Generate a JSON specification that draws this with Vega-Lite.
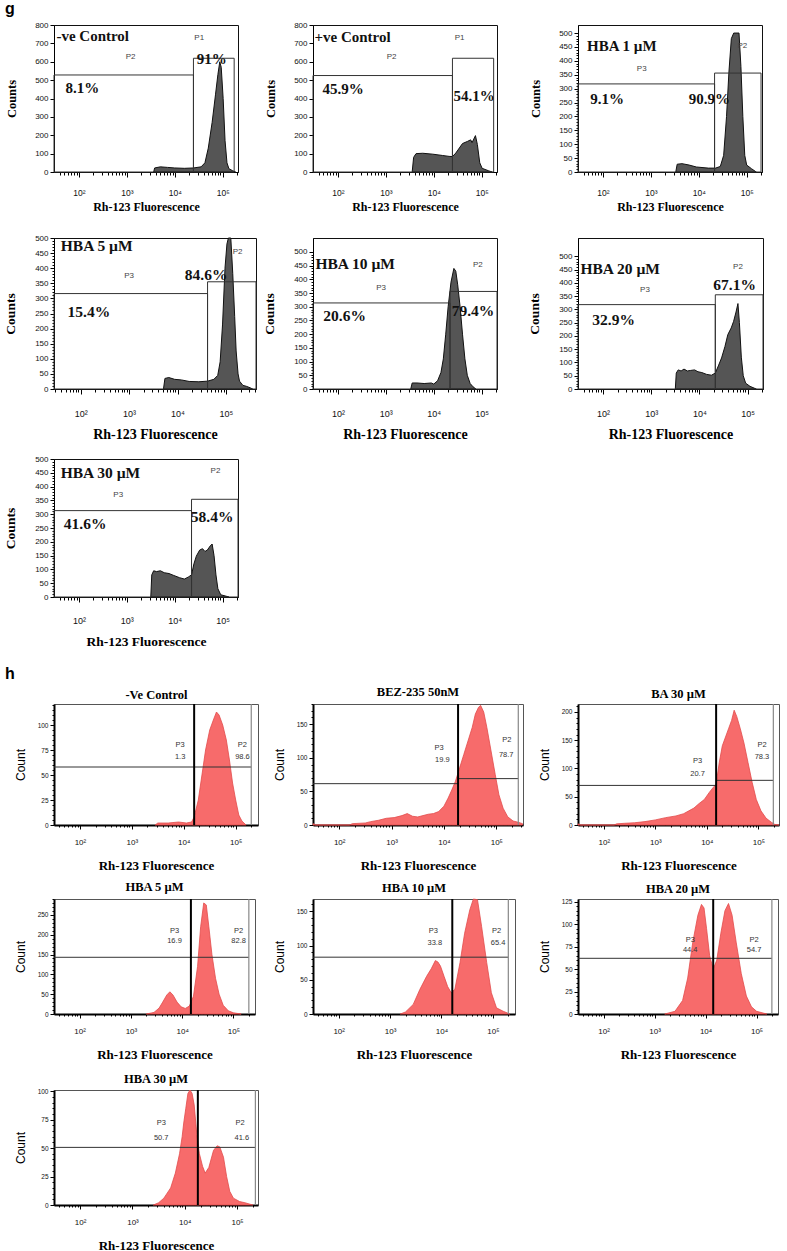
{
"$schema":"https://vega.github.io/schema/vega-lite/v6.json",
"background":"white",
"padding":{"left":3,"top":0,"right":0,"bottom":0},
"columns":4,
"spacing":{"row":66,"column":55},
"bounds":"flush",
"align":"each",
"config":{
 "view":{"stroke":"#111","strokeWidth":1},
 "axis":{"grid":false,"domainColor":"#000","tickColor":"#000","labelColor":"#111","labelFont":"Liberation Sans","titleColor":"#000","labelFlush":false,"labelOverlap":false,"labelBound":false},
 "title":{"color":"#000"}
},
"concat":[
{
 "width":184,"height":147,
 "title":{"text":"g","anchor":"start","frame":"group","dx":-49,"offset":4,"fontSize":16,"font":"Liberation Sans","fontWeight":"bold"},
 "encoding":{
  "x":{"field":"l","type":"quantitative","scale":{"domain":[1.48,5.32],"nice":false,"zero":false},"axis":{"title":"Rh-123 Fluorescence","titleFont":"Liberation Serif","titleFontWeight":"bold","titleFontSize":12,"titlePadding":5,"labelFontSize":8.5,"labelPadding":11,"values":[1.602,1.699,1.778,1.845,1.903,1.954,2,2.301,2.477,2.602,2.699,2.778,2.845,2.903,2.954,3,3.301,3.477,3.602,3.699,3.778,3.845,3.903,3.954,4,4.301,4.477,4.602,4.699,4.778,4.845,4.903,4.954,5,5.301],"labelExpr":"datum.value == 2 ? '10²' : datum.value == 3 ? '10³' : datum.value == 4 ? '10⁴' : datum.value == 5 ? '10⁵' : ''","tickSize":{"condition":{"test":"datum.value % 1 == 0","value":5},"value":3}}},
  "y":{"field":"c","type":"quantitative","scale":{"domain":[0,800],"nice":false},"axis":{"title":"Counts","titleFont":"Liberation Serif","titleFontWeight":"bold","titleFontSize":12.5,"titlePadding":16,"labelFontSize":8,"labelPadding":2,"tickSize":4,"values":[0,100,200,300,400,500,600,700,800]}}
 },
 "layer":[
  {"data":{"values":[{"l":3.56,"c":0},{"l":3.58,"c":22},{"l":3.7,"c":28},{"l":3.85,"c":25},{"l":4.0,"c":22},{"l":4.2,"c":20},{"l":4.39,"c":22},{"l":4.55,"c":28},{"l":4.63,"c":50},{"l":4.7,"c":130},{"l":4.78,"c":270},{"l":4.85,"c":420},{"l":4.9,"c":530},{"l":4.94,"c":600},{"l":4.97,"c":570},{"l":5.01,"c":400},{"l":5.05,"c":170},{"l":5.09,"c":50},{"l":5.13,"c":18},{"l":5.2,"c":8},{"l":5.27,"c":0}]},"mark":{"type":"area","color":"#555","stroke":"#111","strokeWidth":1}},
  {"data":{"values":[{"l":1.48,"l2":4.39,"c":0,"c2":528},{"l":4.39,"l2":5.24,"c":0,"c2":619}]},"mark":{"type":"rect","fillOpacity":0,"stroke":"#333","strokeWidth":1},"encoding":{"x2":{"field":"l2"},"y2":{"field":"c2"}}},
  {"data":{"values":[{"l":1.53,"c":740,"t":"-ve Control"}]},"mark":{"type":"text","align":"left","baseline":"middle","font":"Liberation Serif","fontWeight":"bold","fontSize":15,"color":"#111"},"encoding":{"text":{"field":"t"}}},
  {"data":{"values":[{"l":4.77,"c":614,"t":"91%"},{"l":2.07,"c":456,"t":"8.1%"}]},"mark":{"type":"text","align":"center","baseline":"middle","font":"Liberation Serif","fontWeight":"bold","fontSize":15,"color":"#111"},"encoding":{"text":{"field":"t"}}},
  {"data":{"values":[{"l":3.08,"c":628,"t":"P2"},{"l":4.51,"c":728,"t":"P1"}]},"mark":{"type":"text","align":"center","baseline":"middle","font":"Liberation Sans","fontSize":8,"color":"#444"},"encoding":{"text":{"field":"t"}}}
 ]
},
{
 "width":184,"height":147,
 "encoding":{
  "x":{"field":"l","type":"quantitative","scale":{"domain":[1.48,5.32],"nice":false,"zero":false},"axis":{"title":"Rh-123 Fluorescence","titleFont":"Liberation Serif","titleFontWeight":"bold","titleFontSize":12,"titlePadding":5,"labelFontSize":8.5,"labelPadding":11,"values":[1.602,1.699,1.778,1.845,1.903,1.954,2,2.301,2.477,2.602,2.699,2.778,2.845,2.903,2.954,3,3.301,3.477,3.602,3.699,3.778,3.845,3.903,3.954,4,4.301,4.477,4.602,4.699,4.778,4.845,4.903,4.954,5,5.301],"labelExpr":"datum.value == 2 ? '10²' : datum.value == 3 ? '10³' : datum.value == 4 ? '10⁴' : datum.value == 5 ? '10⁵' : ''","tickSize":{"condition":{"test":"datum.value % 1 == 0","value":5},"value":3}}},
  "y":{"field":"c","type":"quantitative","scale":{"domain":[0,800],"nice":false},"axis":{"title":"Counts","titleFont":"Liberation Serif","titleFontWeight":"bold","titleFontSize":12.5,"titlePadding":16,"labelFontSize":8,"labelPadding":2,"tickSize":4,"values":[0,100,200,300,400,500,600,700,800]}}
 },
 "layer":[
  {"data":{"values":[{"l":3.55,"c":0},{"l":3.58,"c":80},{"l":3.63,"c":100},{"l":3.77,"c":102},{"l":3.98,"c":97},{"l":4.18,"c":90},{"l":4.32,"c":85},{"l":4.39,"c":84},{"l":4.46,"c":103},{"l":4.6,"c":155},{"l":4.7,"c":166},{"l":4.77,"c":175},{"l":4.8,"c":160},{"l":4.87,"c":198},{"l":4.91,"c":150},{"l":4.96,"c":50},{"l":5.01,"c":20},{"l":5.15,"c":6},{"l":5.22,"c":0}]},"mark":{"type":"area","color":"#555","stroke":"#111","strokeWidth":1}},
  {"data":{"values":[{"l":1.48,"l2":4.39,"c":0,"c2":525},{"l":4.39,"l2":5.25,"c":0,"c2":619}]},"mark":{"type":"rect","fillOpacity":0,"stroke":"#333","strokeWidth":1},"encoding":{"x2":{"field":"l2"},"y2":{"field":"c2"}}},
  {"data":{"values":[{"l":1.51,"c":737,"t":"+ve Control"}]},"mark":{"type":"text","align":"left","baseline":"middle","font":"Liberation Serif","fontWeight":"bold","fontSize":15,"color":"#111"},"encoding":{"text":{"field":"t"}}},
  {"data":{"values":[{"l":2.11,"c":451,"t":"45.9%"},{"l":4.84,"c":411,"t":"54.1%"}]},"mark":{"type":"text","align":"center","baseline":"middle","font":"Liberation Serif","fontWeight":"bold","fontSize":15,"color":"#111"},"encoding":{"text":{"field":"t"}}},
  {"data":{"values":[{"l":3.12,"c":624,"t":"P2"},{"l":4.54,"c":728,"t":"P1"}]},"mark":{"type":"text","align":"center","baseline":"middle","font":"Liberation Sans","fontSize":8,"color":"#444"},"encoding":{"text":{"field":"t"}}}
 ]
},
{
 "width":184,"height":147,
 "encoding":{
  "x":{"field":"l","type":"quantitative","scale":{"domain":[1.48,5.32],"nice":false,"zero":false},"axis":{"title":"Rh-123 Fluorescence","titleFont":"Liberation Serif","titleFontWeight":"bold","titleFontSize":12,"titlePadding":5,"labelFontSize":8.5,"labelPadding":11,"values":[1.602,1.699,1.778,1.845,1.903,1.954,2,2.301,2.477,2.602,2.699,2.778,2.845,2.903,2.954,3,3.301,3.477,3.602,3.699,3.778,3.845,3.903,3.954,4,4.301,4.477,4.602,4.699,4.778,4.845,4.903,4.954,5,5.301],"labelExpr":"datum.value == 2 ? '10²' : datum.value == 3 ? '10³' : datum.value == 4 ? '10⁴' : datum.value == 5 ? '10⁵' : ''","tickSize":{"condition":{"test":"datum.value % 1 == 0","value":5},"value":3}}},
  "y":{"field":"c","type":"quantitative","scale":{"domain":[0,529],"nice":false},"axis":{"title":"Counts","titleFont":"Liberation Serif","titleFontWeight":"bold","titleFontSize":12.5,"titlePadding":16,"labelFontSize":8,"labelPadding":2,"values":[0,10,20,30,40,50,60,70,80,90,100,110,120,130,140,150,160,170,180,190,200,210,220,230,240,250,260,270,280,290,300,310,320,330,340,350,360,370,380,390,400,410,420,430,440,450,460,470,480,490,500],"labelExpr":"datum.value % 50 == 0 ? datum.label : ''","tickSize":{"condition":{"test":"datum.value % 50 == 0","value":4},"value":2}}}
 },
 "layer":[
  {"data":{"values":[{"l":3.52,"c":0},{"l":3.55,"c":28},{"l":3.65,"c":30},{"l":3.8,"c":25},{"l":3.95,"c":18},{"l":4.2,"c":14},{"l":4.35,"c":14},{"l":4.45,"c":20},{"l":4.52,"c":60},{"l":4.58,"c":200},{"l":4.63,"c":360},{"l":4.68,"c":480},{"l":4.73,"c":500},{"l":4.84,"c":500},{"l":4.88,"c":380},{"l":4.92,"c":200},{"l":4.96,"c":60},{"l":5.0,"c":25},{"l":5.1,"c":12},{"l":5.2,"c":0}]},"mark":{"type":"area","color":"#555","stroke":"#111","strokeWidth":1}},
  {"data":{"values":[{"l":1.48,"l2":4.33,"c":0,"c2":317},{"l":4.33,"l2":5.3,"c":0,"c2":356}]},"mark":{"type":"rect","fillOpacity":0,"stroke":"#333","strokeWidth":1},"encoding":{"x2":{"field":"l2"},"y2":{"field":"c2"}}},
  {"data":{"values":[{"l":1.67,"c":452,"t":"HBA 1 µM"}]},"mark":{"type":"text","align":"left","baseline":"middle","font":"Liberation Serif","fontWeight":"bold","fontSize":15,"color":"#111"},"encoding":{"text":{"field":"t"}}},
  {"data":{"values":[{"l":2.09,"c":264,"t":"9.1%"},{"l":4.22,"c":264,"t":"90.9%"}]},"mark":{"type":"text","align":"center","baseline":"middle","font":"Liberation Serif","fontWeight":"bold","fontSize":15,"color":"#111"},"encoding":{"text":{"field":"t"}}},
  {"data":{"values":[{"l":2.81,"c":370,"t":"P3"},{"l":4.91,"c":452,"t":"P2"}]},"mark":{"type":"text","align":"center","baseline":"middle","font":"Liberation Sans","fontSize":8,"color":"#444"},"encoding":{"text":{"field":"t"}}}
 ]
},
{"width":1,"height":147,"view":{"stroke":null},"data":{"values":[]},"mark":"point"},
{
 "width":202,"height":151,
 "encoding":{
  "x":{"field":"l","type":"quantitative","scale":{"domain":[1.45,5.62],"nice":false,"zero":false},"axis":{"title":"Rh-123 Fluorescence","titleFont":"Liberation Serif","titleFontWeight":"bold","titleFontSize":14,"titlePadding":9,"labelFontSize":9,"labelPadding":15,"values":[1.477,1.602,1.699,1.778,1.845,1.903,1.954,2,2.301,2.477,2.602,2.699,2.778,2.845,2.903,2.954,3,3.301,3.477,3.602,3.699,3.778,3.845,3.903,3.954,4,4.301,4.477,4.602,4.699,4.778,4.845,4.903,4.954,5,5.301,5.477,5.602],"labelExpr":"datum.value == 2 ? '10²' : datum.value == 3 ? '10³' : datum.value == 4 ? '10⁴' : datum.value == 5 ? '10⁵' : ''","tickSize":{"condition":{"test":"datum.value % 1 == 0","value":5},"value":3}}},
  "y":{"field":"c","type":"quantitative","scale":{"domain":[0,500],"nice":false},"axis":{"title":"Counts","titleFont":"Liberation Serif","titleFontWeight":"bold","titleFontSize":13.5,"titlePadding":17,"labelFontSize":8,"labelPadding":2,"values":[0,10,20,30,40,50,60,70,80,90,100,110,120,130,140,150,160,170,180,190,200,210,220,230,240,250,260,270,280,290,300,310,320,330,340,350,360,370,380,390,400,410,420,430,440,450,460,470,480,490,500],"labelExpr":"datum.value % 50 == 0 ? datum.label : ''","tickSize":{"condition":{"test":"datum.value % 50 == 0","value":4},"value":2}}}
 },
 "layer":[
  {"data":{"values":[{"l":3.71,"c":0},{"l":3.74,"c":35},{"l":3.82,"c":38},{"l":3.94,"c":32},{"l":4.08,"c":30},{"l":4.24,"c":25},{"l":4.44,"c":24},{"l":4.62,"c":26},{"l":4.75,"c":32},{"l":4.83,"c":45},{"l":4.88,"c":90},{"l":4.93,"c":215},{"l":4.98,"c":400},{"l":5.02,"c":480},{"l":5.05,"c":500},{"l":5.1,"c":500},{"l":5.14,"c":383},{"l":5.18,"c":240},{"l":5.21,"c":126},{"l":5.25,"c":50},{"l":5.28,"c":26},{"l":5.35,"c":12},{"l":5.42,"c":9},{"l":5.5,"c":4},{"l":5.55,"c":0}]},"mark":{"type":"area","color":"#555","stroke":"#111","strokeWidth":1}},
  {"data":{"values":[{"l":1.45,"l2":4.62,"c":0,"c2":316},{"l":4.62,"l2":5.62,"c":0,"c2":355}]},"mark":{"type":"rect","fillOpacity":0,"stroke":"#333","strokeWidth":1},"encoding":{"x2":{"field":"l2"},"y2":{"field":"c2"}}},
  {"data":{"values":[{"l":1.59,"c":472,"t":"HBA  5 µM"}]},"mark":{"type":"text","align":"left","baseline":"middle","font":"Liberation Serif","fontWeight":"bold","fontSize":15.5,"color":"#111"},"encoding":{"text":{"field":"t"}}},
  {"data":{"values":[{"l":2.17,"c":254,"t":"15.4%"},{"l":4.59,"c":377,"t":"84.6%"}]},"mark":{"type":"text","align":"center","baseline":"middle","font":"Liberation Serif","fontWeight":"bold","fontSize":15.5,"color":"#111"},"encoding":{"text":{"field":"t"}}},
  {"data":{"values":[{"l":3.0,"c":374,"t":"P3"},{"l":5.24,"c":455,"t":"P2"}]},"mark":{"type":"text","align":"center","baseline":"middle","font":"Liberation Sans","fontSize":8,"color":"#444"},"encoding":{"text":{"field":"t"}}}
 ]
},
{
 "width":184,"height":151,
 "encoding":{
  "x":{"field":"l","type":"quantitative","scale":{"domain":[1.48,5.32],"nice":false,"zero":false},"axis":{"title":"Rh-123 Fluorescence","titleFont":"Liberation Serif","titleFontWeight":"bold","titleFontSize":14,"titlePadding":9,"labelFontSize":9,"labelPadding":15,"values":[1.602,1.699,1.778,1.845,1.903,1.954,2,2.301,2.477,2.602,2.699,2.778,2.845,2.903,2.954,3,3.301,3.477,3.602,3.699,3.778,3.845,3.903,3.954,4,4.301,4.477,4.602,4.699,4.778,4.845,4.903,4.954,5,5.301],"labelExpr":"datum.value == 2 ? '10²' : datum.value == 3 ? '10³' : datum.value == 4 ? '10⁴' : datum.value == 5 ? '10⁵' : ''","tickSize":{"condition":{"test":"datum.value % 1 == 0","value":5},"value":3}}},
  "y":{"field":"c","type":"quantitative","scale":{"domain":[0,551],"nice":false},"axis":{"title":"Counts","titleFont":"Liberation Serif","titleFontWeight":"bold","titleFontSize":13.5,"titlePadding":17,"labelFontSize":8,"labelPadding":2,"values":[0,10,20,30,40,50,60,70,80,90,100,110,120,130,140,150,160,170,180,190,200,210,220,230,240,250,260,270,280,290,300,310,320,330,340,350,360,370,380,390,400,410,420,430,440,450,460,470,480,490,500],"labelExpr":"datum.value % 50 == 0 ? datum.label : ''","tickSize":{"condition":{"test":"datum.value % 50 == 0","value":4},"value":2}}}
 },
 "layer":[
  {"data":{"values":[{"l":3.52,"c":0},{"l":3.55,"c":22},{"l":3.65,"c":22},{"l":3.8,"c":20},{"l":3.95,"c":22},{"l":4.0,"c":18},{"l":4.08,"c":30},{"l":4.15,"c":60},{"l":4.2,"c":110},{"l":4.25,"c":200},{"l":4.3,"c":300},{"l":4.36,"c":390},{"l":4.42,"c":440},{"l":4.46,"c":430},{"l":4.5,"c":380},{"l":4.55,"c":300},{"l":4.6,"c":200},{"l":4.65,"c":110},{"l":4.7,"c":50},{"l":4.76,"c":20},{"l":4.82,"c":8},{"l":4.88,"c":0}]},"mark":{"type":"area","color":"#555","stroke":"#111","strokeWidth":1}},
  {"data":{"values":[{"l":1.48,"l2":4.34,"c":0,"c2":314},{"l":4.34,"l2":5.32,"c":0,"c2":356}]},"mark":{"type":"rect","fillOpacity":0,"stroke":"#333","strokeWidth":1},"encoding":{"x2":{"field":"l2"},"y2":{"field":"c2"}}},
  {"data":{"values":[{"l":1.53,"c":456,"t":"HBA 10 µM"}]},"mark":{"type":"text","align":"left","baseline":"middle","font":"Liberation Serif","fontWeight":"bold","fontSize":15.5,"color":"#111"},"encoding":{"text":{"field":"t"}}},
  {"data":{"values":[{"l":2.14,"c":265,"t":"20.6%"},{"l":4.82,"c":283,"t":"79.4%"}]},"mark":{"type":"text","align":"center","baseline":"middle","font":"Liberation Serif","fontWeight":"bold","fontSize":15.5,"color":"#111"},"encoding":{"text":{"field":"t"}}},
  {"data":{"values":[{"l":2.9,"c":369,"t":"P3"},{"l":4.92,"c":454,"t":"P2"}]},"mark":{"type":"text","align":"center","baseline":"middle","font":"Liberation Sans","fontSize":8,"color":"#444"},"encoding":{"text":{"field":"t"}}}
 ]
},
{
 "width":185,"height":151,
 "encoding":{
  "x":{"field":"l","type":"quantitative","scale":{"domain":[1.48,5.32],"nice":false,"zero":false},"axis":{"title":"Rh-123 Fluorescence","titleFont":"Liberation Serif","titleFontWeight":"bold","titleFontSize":14,"titlePadding":9,"labelFontSize":9,"labelPadding":15,"values":[1.602,1.699,1.778,1.845,1.903,1.954,2,2.301,2.477,2.602,2.699,2.778,2.845,2.903,2.954,3,3.301,3.477,3.602,3.699,3.778,3.845,3.903,3.954,4,4.301,4.477,4.602,4.699,4.778,4.845,4.903,4.954,5,5.301],"labelExpr":"datum.value == 2 ? '10²' : datum.value == 3 ? '10³' : datum.value == 4 ? '10⁴' : datum.value == 5 ? '10⁵' : ''","tickSize":{"condition":{"test":"datum.value % 1 == 0","value":5},"value":3}}},
  "y":{"field":"c","type":"quantitative","scale":{"domain":[0,569],"nice":false},"axis":{"title":"Counts","titleFont":"Liberation Serif","titleFontWeight":"bold","titleFontSize":13.5,"titlePadding":17,"labelFontSize":8,"labelPadding":2,"values":[0,10,20,30,40,50,60,70,80,90,100,110,120,130,140,150,160,170,180,190,200,210,220,230,240,250,260,270,280,290,300,310,320,330,340,350,360,370,380,390,400,410,420,430,440,450,460,470,480,490,500],"labelExpr":"datum.value % 50 == 0 ? datum.label : ''","tickSize":{"condition":{"test":"datum.value % 50 == 0","value":4},"value":2}}}
 },
 "layer":[
  {"data":{"values":[{"l":3.5,"c":0},{"l":3.52,"c":60},{"l":3.56,"c":72},{"l":3.62,"c":68},{"l":3.68,"c":75},{"l":3.75,"c":68},{"l":3.82,"c":70},{"l":3.9,"c":72},{"l":3.97,"c":65},{"l":4.05,"c":62},{"l":4.15,"c":55},{"l":4.25,"c":52},{"l":4.33,"c":60},{"l":4.4,"c":90},{"l":4.46,"c":117},{"l":4.53,"c":160},{"l":4.59,"c":205},{"l":4.66,"c":230},{"l":4.71,"c":255},{"l":4.76,"c":290},{"l":4.8,"c":322},{"l":4.83,"c":250},{"l":4.87,"c":120},{"l":4.91,"c":50},{"l":4.96,"c":22},{"l":5.05,"c":10},{"l":5.18,"c":0}]},"mark":{"type":"area","color":"#555","stroke":"#111","strokeWidth":1}},
  {"data":{"values":[{"l":1.48,"l2":4.33,"c":0,"c2":318},{"l":4.33,"l2":5.32,"c":0,"c2":355}]},"mark":{"type":"rect","fillOpacity":0,"stroke":"#333","strokeWidth":1},"encoding":{"x2":{"field":"l2"},"y2":{"field":"c2"}}},
  {"data":{"values":[{"l":1.53,"c":452,"t":"HBA 20 µM"}]},"mark":{"type":"text","align":"left","baseline":"middle","font":"Liberation Serif","fontWeight":"bold","fontSize":15.5,"color":"#111"},"encoding":{"text":{"field":"t"}}},
  {"data":{"values":[{"l":2.22,"c":261,"t":"32.9%"},{"l":4.73,"c":393,"t":"67.1%"}]},"mark":{"type":"text","align":"center","baseline":"middle","font":"Liberation Serif","fontWeight":"bold","fontSize":15.5,"color":"#111"},"encoding":{"text":{"field":"t"}}},
  {"data":{"values":[{"l":2.87,"c":374,"t":"P3"},{"l":4.8,"c":458,"t":"P2"}]},"mark":{"type":"text","align":"center","baseline":"middle","font":"Liberation Sans","fontSize":8,"color":"#444"},"encoding":{"text":{"field":"t"}}}
 ]
},
{"width":1,"height":155,"view":{"stroke":null},"data":{"values":[]},"mark":"point"},
{
 "width":184,"height":138,
 "encoding":{
  "x":{"field":"l","type":"quantitative","scale":{"domain":[1.48,5.32],"nice":false,"zero":false},"axis":{"title":"Rh-123 Fluorescence","titleFont":"Liberation Serif","titleFontWeight":"bold","titleFontSize":13.5,"titlePadding":9,"labelFontSize":9,"labelPadding":14,"values":[1.602,1.699,1.778,1.845,1.903,1.954,2,2.301,2.477,2.602,2.699,2.778,2.845,2.903,2.954,3,3.301,3.477,3.602,3.699,3.778,3.845,3.903,3.954,4,4.301,4.477,4.602,4.699,4.778,4.845,4.903,4.954,5,5.301],"labelExpr":"datum.value == 2 ? '10²' : datum.value == 3 ? '10³' : datum.value == 4 ? '10⁴' : datum.value == 5 ? '10⁵' : ''","tickSize":{"condition":{"test":"datum.value % 1 == 0","value":5},"value":3}}},
  "y":{"field":"c","type":"quantitative","scale":{"domain":[0,500],"nice":false},"axis":{"title":"Counts","titleFont":"Liberation Serif","titleFontWeight":"bold","titleFontSize":13.5,"titlePadding":17,"labelFontSize":8,"labelPadding":2,"values":[0,10,20,30,40,50,60,70,80,90,100,110,120,130,140,150,160,170,180,190,200,210,220,230,240,250,260,270,280,290,300,310,320,330,340,350,360,370,380,390,400,410,420,430,440,450,460,470,480,490,500],"labelExpr":"datum.value % 50 == 0 ? datum.label : ''","tickSize":{"condition":{"test":"datum.value % 50 == 0","value":4},"value":2}}}
 },
 "layer":[
  {"data":{"values":[{"l":3.5,"c":0},{"l":3.52,"c":80},{"l":3.56,"c":95},{"l":3.62,"c":92},{"l":3.7,"c":95},{"l":3.78,"c":88},{"l":3.88,"c":85},{"l":3.98,"c":78},{"l":4.1,"c":70},{"l":4.2,"c":65},{"l":4.28,"c":72},{"l":4.35,"c":80},{"l":4.4,"c":120},{"l":4.45,"c":148},{"l":4.52,"c":170},{"l":4.58,"c":175},{"l":4.63,"c":165},{"l":4.68,"c":170},{"l":4.74,"c":185},{"l":4.78,"c":192},{"l":4.82,"c":150},{"l":4.86,"c":80},{"l":4.9,"c":30},{"l":4.96,"c":8},{"l":5.05,"c":4},{"l":5.13,"c":0}]},"mark":{"type":"area","color":"#555","stroke":"#111","strokeWidth":1}},
  {"data":{"values":[{"l":1.48,"l2":4.35,"c":0,"c2":313},{"l":4.35,"l2":5.32,"c":0,"c2":354}]},"mark":{"type":"rect","fillOpacity":0,"stroke":"#333","strokeWidth":1},"encoding":{"x2":{"field":"l2"},"y2":{"field":"c2"}}},
  {"data":{"values":[{"l":1.62,"c":449,"t":"HBA 30 µM"}]},"mark":{"type":"text","align":"left","baseline":"middle","font":"Liberation Serif","fontWeight":"bold","fontSize":15.5,"color":"#111"},"encoding":{"text":{"field":"t"}}},
  {"data":{"values":[{"l":2.13,"c":265,"t":"41.6%"},{"l":4.78,"c":291,"t":"58.4%"}]},"mark":{"type":"text","align":"center","baseline":"middle","font":"Liberation Serif","fontWeight":"bold","fontSize":15.5,"color":"#111"},"encoding":{"text":{"field":"t"}}},
  {"data":{"values":[{"l":2.82,"c":370,"t":"P3"},{"l":4.85,"c":455,"t":"P2"}]},"mark":{"type":"text","align":"center","baseline":"middle","font":"Liberation Sans","fontSize":8,"color":"#444"},"encoding":{"text":{"field":"t"}}}
 ]
},
{"width":1,"height":179,"view":{"stroke":null},"data":{"values":[]},"mark":"point"},
{"width":1,"height":1,"view":{"stroke":null},"data":{"values":[]},"mark":"point"},
{"width":1,"height":1,"view":{"stroke":null},"data":{"values":[]},"mark":"point"},
{
 "width":204,"height":121,
 "title":{"text":"h","anchor":"start","frame":"group","dx":-49,"offset":6,"fontSize":16,"font":"Liberation Sans","fontWeight":"bold"},
 "view":{"stroke":"#555"},
 "resolve":{"axis":{"x":"independent"}},
 "encoding":{
  "x":{"field":"l","type":"quantitative","scale":{"domain":[1.5,5.43],"nice":false,"zero":false},"axis":{"title":"Rh-123 Fluorescence","titleFont":"Liberation Serif","titleFontWeight":"bold","titleFontSize":13,"titlePadding":13,"labelFontSize":8,"labelPadding":9,"domainWidth":2,"values":[1.602,1.699,1.778,1.845,1.903,1.954,2,2.301,2.477,2.602,2.699,2.778,2.845,2.903,2.954,3,3.301,3.477,3.602,3.699,3.778,3.845,3.903,3.954,4,4.301,4.477,4.602,4.699,4.778,4.845,4.903,4.954,5,5.301],"labelExpr":"datum.value == 2 ? '10²' : datum.value == 3 ? '10³' : datum.value == 4 ? '10⁴' : datum.value == 5 ? '10⁵' : ''","tickSize":{"condition":{"test":"datum.value % 1 == 0","value":4},"value":2}}},
  "y":{"field":"c","type":"quantitative","scale":{"domain":[0,121],"nice":false},"axis":{"title":"Count","titleFont":"Liberation Sans","titleFontWeight":"normal","titleFontSize":12,"titlePadding":10,"labelFontSize":6.5,"labelPadding":2,"domainWidth":2,"values":[0,5,10,15,20,25,30,35,40,45,50,55,60,65,70,75,80,85,90,95,100,105,110,115,120],"labelExpr":"datum.value % 25 == 0 ? datum.label : ''","tickSize":{"condition":{"test":"datum.value % 25 == 0","value":4},"value":2}}}
 },
 "layer":[
  {"data":{"values":[{"l":3.45,"c":0},{"l":3.5,"c":2},{"l":3.7,"c":2},{"l":3.9,"c":3},{"l":4.05,"c":2},{"l":4.15,"c":3},{"l":4.2,"c":8},{"l":4.28,"c":25},{"l":4.35,"c":50},{"l":4.42,"c":75},{"l":4.5,"c":95},{"l":4.57,"c":105},{"l":4.63,"c":113},{"l":4.68,"c":110},{"l":4.75,"c":100},{"l":4.82,"c":85},{"l":4.88,"c":65},{"l":4.94,"c":42},{"l":5.0,"c":25},{"l":5.06,"c":10},{"l":5.12,"c":4},{"l":5.2,"c":0}]},"mark":{"type":"area","color":"#f76b6b","stroke":"#e24b4b","strokeWidth":0.8}},
  {"data":{"values":[{"l":1.5,"l2":4.2,"c":58},{"l":4.2,"l2":5.3,"c":58}]},"mark":{"type":"rule","color":"#333","strokeWidth":1},"encoding":{"x":{"field":"l","type":"quantitative","axis":null},"x2":{"field":"l2"}}},
  {"data":{"values":[{"l":4.2,"c":0,"c2":121}]},"mark":{"type":"rule","color":"#000","strokeWidth":2},"encoding":{"x":{"field":"l","type":"quantitative","axis":null},"y2":{"field":"c2"}}},
  {"data":{"values":[{"l":5.3,"c":0,"c2":121}]},"mark":{"type":"rule","color":"#888","strokeWidth":1.2},"encoding":{"x":{"field":"l","type":"quantitative","axis":null},"y2":{"field":"c2"}}},
  {"data":{"values":[{"l":3.93,"c":80,"t":"P3"},{"l":3.93,"c":68,"t":"1.3"},{"l":5.13,"c":80,"t":"P2"},{"l":5.13,"c":68,"t":"98.6"}]},"mark":{"type":"text","align":"center","baseline":"middle","font":"Liberation Sans","fontSize":7.5,"color":"#333"},"encoding":{"text":{"field":"t"},"x":{"field":"l","type":"quantitative","axis":{"orient":"top","title":"-Ve Control","labels":false,"ticks":false,"domain":false,"titleFont":"Liberation Serif","titleFontWeight":"bold","titleFontSize":12.5,"titlePadding":3}}}}
 ]
},
{
 "width":210,"height":121,
 "title":{"text":"BEZ-235 50nM","font":"Liberation Serif","fontWeight":"bold","fontSize":12.5,"offset":3},
 "view":{"stroke":"#555"},
 "encoding":{
  "x":{"field":"l","type":"quantitative","scale":{"domain":[1.5,5.51],"nice":false,"zero":false},"axis":{"title":"Rh-123 Fluorescence","titleFont":"Liberation Serif","titleFontWeight":"bold","titleFontSize":13,"titlePadding":13,"labelFontSize":8,"labelPadding":9,"domainWidth":2,"values":[1.602,1.699,1.778,1.845,1.903,1.954,2,2.301,2.477,2.602,2.699,2.778,2.845,2.903,2.954,3,3.301,3.477,3.602,3.699,3.778,3.845,3.903,3.954,4,4.301,4.477,4.602,4.699,4.778,4.845,4.903,4.954,5,5.301,5.477],"labelExpr":"datum.value == 2 ? '10²' : datum.value == 3 ? '10³' : datum.value == 4 ? '10⁴' : datum.value == 5 ? '10⁵' : ''","tickSize":{"condition":{"test":"datum.value % 1 == 0","value":4},"value":2}}},
  "y":{"field":"c","type":"quantitative","scale":{"domain":[0,180],"nice":false},"axis":{"title":"Count","titleFont":"Liberation Sans","titleFontWeight":"normal","titleFontSize":12,"titlePadding":10,"labelFontSize":6.5,"labelPadding":2,"domainWidth":2,"values":[0,10,20,30,40,50,60,70,80,90,100,110,120,130,140,150,160,170,180],"labelExpr":"datum.value % 50 == 0 ? datum.label : ''","tickSize":{"condition":{"test":"datum.value % 50 == 0","value":4},"value":2}}}
 },
 "layer":[
  {"data":{"values":[{"l":1.5,"c":2},{"l":1.55,"c":0},{"l":2.2,"c":0},{"l":2.25,"c":2},{"l":2.5,"c":3},{"l":2.6,"c":5},{"l":2.75,"c":7},{"l":2.9,"c":10},{"l":3.05,"c":11},{"l":3.2,"c":14},{"l":3.3,"c":17},{"l":3.4,"c":13},{"l":3.5,"c":12},{"l":3.6,"c":14},{"l":3.7,"c":16},{"l":3.8,"c":17},{"l":3.9,"c":20},{"l":4.0,"c":28},{"l":4.08,"c":40},{"l":4.15,"c":52},{"l":4.22,"c":65},{"l":4.3,"c":85},{"l":4.38,"c":105},{"l":4.46,"c":125},{"l":4.54,"c":145},{"l":4.6,"c":165},{"l":4.66,"c":175},{"l":4.7,"c":178},{"l":4.76,"c":168},{"l":4.82,"c":145},{"l":4.9,"c":110},{"l":4.98,"c":75},{"l":5.05,"c":45},{"l":5.13,"c":25},{"l":5.22,"c":12},{"l":5.32,"c":6},{"l":5.42,"c":4},{"l":5.5,"c":2}]},"mark":{"type":"area","color":"#f76b6b","stroke":"#e24b4b","strokeWidth":0.8}},
  {"data":{"values":[{"l":1.5,"l2":4.27,"c":61.5},{"l":4.27,"l2":5.42,"c":69}]},"mark":{"type":"rule","color":"#333","strokeWidth":1},"encoding":{"x2":{"field":"l2"}}},
  {"data":{"values":[{"l":4.27,"c":0,"c2":180}]},"mark":{"type":"rule","color":"#000","strokeWidth":2},"encoding":{"y2":{"field":"c2"}}},
  {"data":{"values":[{"l":5.42,"c":0,"c2":180}]},"mark":{"type":"rule","color":"#888","strokeWidth":1.2},"encoding":{"y2":{"field":"c2"}}},
  {"data":{"values":[{"l":3.91,"c":114,"t":"P3"},{"l":3.97,"c":96,"t":"19.9"},{"l":5.2,"c":126,"t":"P2"},{"l":5.19,"c":104,"t":"78.7"}]},"mark":{"type":"text","align":"center","baseline":"middle","font":"Liberation Sans","fontSize":7.5,"color":"#333"},"encoding":{"text":{"field":"t"}}}
 ]
},
{
 "width":201,"height":121,
 "title":{"text":"BA  30 µM","font":"Liberation Serif","fontWeight":"bold","fontSize":12.5,"offset":3},
 "view":{"stroke":"#555"},
 "encoding":{
  "x":{"field":"l","type":"quantitative","scale":{"domain":[1.5,5.4],"nice":false,"zero":false},"axis":{"title":"Rh-123 Fluorescence","titleFont":"Liberation Serif","titleFontWeight":"bold","titleFontSize":13,"titlePadding":13,"labelFontSize":8,"labelPadding":9,"domainWidth":2,"values":[1.602,1.699,1.778,1.845,1.903,1.954,2,2.301,2.477,2.602,2.699,2.778,2.845,2.903,2.954,3,3.301,3.477,3.602,3.699,3.778,3.845,3.903,3.954,4,4.301,4.477,4.602,4.699,4.778,4.845,4.903,4.954,5,5.301],"labelExpr":"datum.value == 2 ? '10²' : datum.value == 3 ? '10³' : datum.value == 4 ? '10⁴' : datum.value == 5 ? '10⁵' : ''","tickSize":{"condition":{"test":"datum.value % 1 == 0","value":4},"value":2}}},
  "y":{"field":"c","type":"quantitative","scale":{"domain":[0,214],"nice":false},"axis":{"title":"Count","titleFont":"Liberation Sans","titleFontWeight":"normal","titleFontSize":12,"titlePadding":10,"labelFontSize":6.5,"labelPadding":2,"domainWidth":2,"values":[0,10,20,30,40,50,60,70,80,90,100,110,120,130,140,150,160,170,180,190,200,210],"labelExpr":"datum.value % 50 == 0 ? datum.label : ''","tickSize":{"condition":{"test":"datum.value % 50 == 0","value":4},"value":2}}}
 },
 "layer":[
  {"data":{"values":[{"l":1.5,"c":2},{"l":1.55,"c":0},{"l":2.2,"c":0},{"l":2.25,"c":2},{"l":2.4,"c":3},{"l":2.6,"c":4},{"l":2.8,"c":6},{"l":3.0,"c":9},{"l":3.2,"c":13},{"l":3.4,"c":16},{"l":3.55,"c":20},{"l":3.65,"c":25},{"l":3.75,"c":30},{"l":3.85,"c":38},{"l":3.95,"c":45},{"l":4.05,"c":58},{"l":4.12,"c":66},{"l":4.18,"c":72},{"l":4.24,"c":110},{"l":4.3,"c":140},{"l":4.42,"c":170},{"l":4.48,"c":185},{"l":4.53,"c":203},{"l":4.58,"c":192},{"l":4.65,"c":170},{"l":4.72,"c":145},{"l":4.8,"c":110},{"l":4.88,"c":75},{"l":4.96,"c":45},{"l":5.05,"c":25},{"l":5.15,"c":12},{"l":5.25,"c":5},{"l":5.32,"c":1},{"l":5.4,"c":0}]},"mark":{"type":"area","color":"#f76b6b","stroke":"#e24b4b","strokeWidth":0.8}},
  {"data":{"values":[{"l":1.5,"l2":4.18,"c":70},{"l":4.18,"l2":5.29,"c":79}]},"mark":{"type":"rule","color":"#333","strokeWidth":1},"encoding":{"x2":{"field":"l2"}}},
  {"data":{"values":[{"l":4.18,"c":0,"c2":214}]},"mark":{"type":"rule","color":"#000","strokeWidth":2},"encoding":{"y2":{"field":"c2"}}},
  {"data":{"values":[{"l":5.29,"c":0,"c2":214}]},"mark":{"type":"rule","color":"#888","strokeWidth":1.2},"encoding":{"y2":{"field":"c2"}}},
  {"data":{"values":[{"l":3.82,"c":114,"t":"P3"},{"l":3.82,"c":90,"t":"20.7"},{"l":5.07,"c":141,"t":"P2"},{"l":5.07,"c":120,"t":"78.3"}]},"mark":{"type":"text","align":"center","baseline":"middle","font":"Liberation Sans","fontSize":7.5,"color":"#333"},"encoding":{"text":{"field":"t"}}}
 ]
},
{"width":1,"height":129,"view":{"stroke":null},"data":{"values":[]},"mark":"point"},
{
 "width":201,"height":115,
 "title":{"text":"HBA  5 µM","font":"Liberation Serif","fontWeight":"bold","fontSize":12.5,"offset":3},
 "view":{"stroke":"#555"},
 "encoding":{
  "x":{"field":"l","type":"quantitative","scale":{"domain":[1.5,5.42],"nice":false,"zero":false},"axis":{"title":"Rh-123 Fluorescence","titleFont":"Liberation Serif","titleFontWeight":"bold","titleFontSize":13,"titlePadding":13,"labelFontSize":8,"labelPadding":9,"domainWidth":2,"values":[1.602,1.699,1.778,1.845,1.903,1.954,2,2.301,2.477,2.602,2.699,2.778,2.845,2.903,2.954,3,3.301,3.477,3.602,3.699,3.778,3.845,3.903,3.954,4,4.301,4.477,4.602,4.699,4.778,4.845,4.903,4.954,5,5.301],"labelExpr":"datum.value == 2 ? '10²' : datum.value == 3 ? '10³' : datum.value == 4 ? '10⁴' : datum.value == 5 ? '10⁵' : ''","tickSize":{"condition":{"test":"datum.value % 1 == 0","value":4},"value":2}}},
  "y":{"field":"c","type":"quantitative","scale":{"domain":[0,290],"nice":false},"axis":{"title":"Count","titleFont":"Liberation Sans","titleFontWeight":"normal","titleFontSize":12,"titlePadding":10,"labelFontSize":6.5,"labelPadding":2,"domainWidth":2,"values":[0,10,20,30,40,50,60,70,80,90,100,110,120,130,140,150,160,170,180,190,200,210,220,230,240,250,260,270,280,290],"labelExpr":"datum.value % 50 == 0 ? datum.label : ''","tickSize":{"condition":{"test":"datum.value % 50 == 0","value":4},"value":2}}}
 },
 "layer":[
  {"data":{"values":[{"l":3.3,"c":0},{"l":3.45,"c":4},{"l":3.55,"c":15},{"l":3.62,"c":30},{"l":3.7,"c":48},{"l":3.76,"c":56},{"l":3.82,"c":48},{"l":3.9,"c":30},{"l":3.98,"c":18},{"l":4.06,"c":14},{"l":4.14,"c":20},{"l":4.22,"c":45},{"l":4.3,"c":120},{"l":4.36,"c":220},{"l":4.42,"c":280},{"l":4.47,"c":275},{"l":4.52,"c":220},{"l":4.58,"c":150},{"l":4.65,"c":90},{"l":4.72,"c":50},{"l":4.8,"c":22},{"l":4.9,"c":8},{"l":5.0,"c":3},{"l":5.15,"c":0}]},"mark":{"type":"area","color":"#f76b6b","stroke":"#e24b4b","strokeWidth":0.8}},
  {"data":{"values":[{"l":1.5,"l2":4.17,"c":143},{"l":4.17,"l2":5.3,"c":143}]},"mark":{"type":"rule","color":"#333","strokeWidth":1},"encoding":{"x2":{"field":"l2"}}},
  {"data":{"values":[{"l":4.17,"c":0,"c2":290}]},"mark":{"type":"rule","color":"#000","strokeWidth":2},"encoding":{"y2":{"field":"c2"}}},
  {"data":{"values":[{"l":5.3,"c":0,"c2":290}]},"mark":{"type":"rule","color":"#888","strokeWidth":1.2},"encoding":{"y2":{"field":"c2"}}},
  {"data":{"values":[{"l":3.85,"c":210,"t":"P3"},{"l":3.85,"c":185,"t":"16.9"},{"l":5.1,"c":210,"t":"P2"},{"l":5.1,"c":185,"t":"82.8"}]},"mark":{"type":"text","align":"center","baseline":"middle","font":"Liberation Sans","fontSize":7.5,"color":"#333"},"encoding":{"text":{"field":"t"}}}
 ]
},
{
 "width":202,"height":115,
 "title":{"text":"HBA  10 µM","font":"Liberation Serif","fontWeight":"bold","fontSize":12.5,"offset":3},
 "view":{"stroke":"#555"},
 "encoding":{
  "x":{"field":"l","type":"quantitative","scale":{"domain":[1.5,5.43],"nice":false,"zero":false},"axis":{"title":"Rh-123 Fluorescence","titleFont":"Liberation Serif","titleFontWeight":"bold","titleFontSize":13,"titlePadding":13,"labelFontSize":8,"labelPadding":9,"domainWidth":2,"values":[1.602,1.699,1.778,1.845,1.903,1.954,2,2.301,2.477,2.602,2.699,2.778,2.845,2.903,2.954,3,3.301,3.477,3.602,3.699,3.778,3.845,3.903,3.954,4,4.301,4.477,4.602,4.699,4.778,4.845,4.903,4.954,5,5.301],"labelExpr":"datum.value == 2 ? '10²' : datum.value == 3 ? '10³' : datum.value == 4 ? '10⁴' : datum.value == 5 ? '10⁵' : ''","tickSize":{"condition":{"test":"datum.value % 1 == 0","value":4},"value":2}}},
  "y":{"field":"c","type":"quantitative","scale":{"domain":[0,168],"nice":false},"axis":{"title":"Count","titleFont":"Liberation Sans","titleFontWeight":"normal","titleFontSize":12,"titlePadding":10,"labelFontSize":6.5,"labelPadding":2,"domainWidth":2,"values":[0,10,20,30,40,50,60,70,80,90,100,110,120,130,140,150,160],"labelExpr":"datum.value % 50 == 0 ? datum.label : ''","tickSize":{"condition":{"test":"datum.value % 50 == 0","value":4},"value":2}}}
 },
 "layer":[
  {"data":{"values":[{"l":3.2,"c":0},{"l":3.3,"c":3},{"l":3.45,"c":14},{"l":3.58,"c":36},{"l":3.71,"c":55},{"l":3.8,"c":66},{"l":3.88,"c":78},{"l":3.93,"c":76},{"l":3.98,"c":70},{"l":4.05,"c":55},{"l":4.12,"c":40},{"l":4.19,"c":31},{"l":4.26,"c":36},{"l":4.36,"c":75},{"l":4.45,"c":118},{"l":4.55,"c":152},{"l":4.62,"c":168},{"l":4.7,"c":167},{"l":4.78,"c":128},{"l":4.88,"c":75},{"l":4.97,"c":31},{"l":5.07,"c":9},{"l":5.2,"c":4},{"l":5.33,"c":0}]},"mark":{"type":"area","color":"#f76b6b","stroke":"#e24b4b","strokeWidth":0.8}},
  {"data":{"values":[{"l":1.5,"l2":4.21,"c":83},{"l":4.21,"l2":5.3,"c":83}]},"mark":{"type":"rule","color":"#333","strokeWidth":1},"encoding":{"x2":{"field":"l2"}}},
  {"data":{"values":[{"l":4.21,"c":0,"c2":168}]},"mark":{"type":"rule","color":"#000","strokeWidth":2},"encoding":{"y2":{"field":"c2"}}},
  {"data":{"values":[{"l":5.3,"c":0,"c2":168}]},"mark":{"type":"rule","color":"#888","strokeWidth":1.2},"encoding":{"y2":{"field":"c2"}}},
  {"data":{"values":[{"l":3.84,"c":121,"t":"P3"},{"l":3.87,"c":104,"t":"33.8"},{"l":5.07,"c":121,"t":"P2"},{"l":5.1,"c":104,"t":"65.4"}]},"mark":{"type":"text","align":"center","baseline":"middle","font":"Liberation Sans","fontSize":7.5,"color":"#333"},"encoding":{"text":{"field":"t"}}}
 ]
},
{
 "width":200,"height":115,
 "title":{"text":"HBA  20 µM","font":"Liberation Serif","fontWeight":"bold","fontSize":12.5,"offset":3},
 "view":{"stroke":"#555"},
 "encoding":{
  "x":{"field":"l","type":"quantitative","scale":{"domain":[1.5,5.42],"nice":false,"zero":false},"axis":{"title":"Rh-123 Fluorescence","titleFont":"Liberation Serif","titleFontWeight":"bold","titleFontSize":13,"titlePadding":13,"labelFontSize":8,"labelPadding":9,"domainWidth":2,"values":[1.602,1.699,1.778,1.845,1.903,1.954,2,2.301,2.477,2.602,2.699,2.778,2.845,2.903,2.954,3,3.301,3.477,3.602,3.699,3.778,3.845,3.903,3.954,4,4.301,4.477,4.602,4.699,4.778,4.845,4.903,4.954,5,5.301],"labelExpr":"datum.value == 2 ? '10²' : datum.value == 3 ? '10³' : datum.value == 4 ? '10⁴' : datum.value == 5 ? '10⁵' : ''","tickSize":{"condition":{"test":"datum.value % 1 == 0","value":4},"value":2}}},
  "y":{"field":"c","type":"quantitative","scale":{"domain":[0,128],"nice":false},"axis":{"title":"Count","titleFont":"Liberation Sans","titleFontWeight":"normal","titleFontSize":12,"titlePadding":10,"labelFontSize":6.5,"labelPadding":2,"domainWidth":2,"values":[0,5,10,15,20,25,30,35,40,45,50,55,60,65,70,75,80,85,90,95,100,105,110,115,120,125],"labelExpr":"datum.value % 25 == 0 ? datum.label : ''","tickSize":{"condition":{"test":"datum.value % 25 == 0","value":4},"value":2}}}
 },
 "layer":[
  {"data":{"values":[{"l":3.2,"c":0},{"l":3.4,"c":3},{"l":3.55,"c":15},{"l":3.65,"c":40},{"l":3.75,"c":80},{"l":3.85,"c":110},{"l":3.92,"c":122},{"l":3.97,"c":118},{"l":4.02,"c":95},{"l":4.08,"c":65},{"l":4.15,"c":50},{"l":4.22,"c":60},{"l":4.3,"c":90},{"l":4.38,"c":115},{"l":4.45,"c":123},{"l":4.52,"c":110},{"l":4.6,"c":80},{"l":4.7,"c":45},{"l":4.8,"c":20},{"l":4.9,"c":8},{"l":5.0,"c":3},{"l":5.2,"c":0}]},"mark":{"type":"area","color":"#f76b6b","stroke":"#e24b4b","strokeWidth":0.8}},
  {"data":{"values":[{"l":1.5,"l2":4.15,"c":62},{"l":4.15,"l2":5.3,"c":62}]},"mark":{"type":"rule","color":"#333","strokeWidth":1},"encoding":{"x2":{"field":"l2"}}},
  {"data":{"values":[{"l":4.15,"c":0,"c2":128}]},"mark":{"type":"rule","color":"#000","strokeWidth":2},"encoding":{"y2":{"field":"c2"}}},
  {"data":{"values":[{"l":5.3,"c":0,"c2":128}]},"mark":{"type":"rule","color":"#888","strokeWidth":1.2},"encoding":{"y2":{"field":"c2"}}},
  {"data":{"values":[{"l":3.7,"c":82,"t":"P3"},{"l":3.7,"c":71,"t":"44.4"},{"l":4.95,"c":82,"t":"P2"},{"l":4.95,"c":71,"t":"54.7"}]},"mark":{"type":"text","align":"center","baseline":"middle","font":"Liberation Sans","fontSize":7.5,"color":"#333"},"encoding":{"text":{"field":"t"}}}
 ]
},
{"width":1,"height":125,"view":{"stroke":null},"data":{"values":[]},"mark":"point"},
{
 "width":204,"height":115,
 "title":{"text":"HBA  30 µM","font":"Liberation Serif","fontWeight":"bold","fontSize":12.5,"offset":3},
 "view":{"stroke":"#555"},
 "encoding":{
  "x":{"field":"l","type":"quantitative","scale":{"domain":[1.5,5.4],"nice":false,"zero":false},"axis":{"title":"Rh-123 Fluorescence","titleFont":"Liberation Serif","titleFontWeight":"bold","titleFontSize":13,"titlePadding":13,"labelFontSize":8,"labelPadding":9,"domainWidth":2,"values":[1.602,1.699,1.778,1.845,1.903,1.954,2,2.301,2.477,2.602,2.699,2.778,2.845,2.903,2.954,3,3.301,3.477,3.602,3.699,3.778,3.845,3.903,3.954,4,4.301,4.477,4.602,4.699,4.778,4.845,4.903,4.954,5,5.301],"labelExpr":"datum.value == 2 ? '10²' : datum.value == 3 ? '10³' : datum.value == 4 ? '10⁴' : datum.value == 5 ? '10⁵' : ''","tickSize":{"condition":{"test":"datum.value % 1 == 0","value":4},"value":2}}},
  "y":{"field":"c","type":"quantitative","scale":{"domain":[0,101],"nice":false},"axis":{"title":"Count","titleFont":"Liberation Sans","titleFontWeight":"normal","titleFontSize":12,"titlePadding":10,"labelFontSize":6.5,"labelPadding":2,"domainWidth":2,"values":[0,5,10,15,20,25,30,35,40,45,50,55,60,65,70,75,80,85,90,95,100],"labelExpr":"datum.value % 25 == 0 ? datum.label : ''","tickSize":{"condition":{"test":"datum.value % 25 == 0","value":4},"value":2}}}
 },
 "layer":[
  {"data":{"values":[{"l":3.4,"c":0},{"l":3.5,"c":2},{"l":3.6,"c":6},{"l":3.73,"c":15},{"l":3.82,"c":28},{"l":3.9,"c":45},{"l":3.95,"c":60},{"l":3.98,"c":72},{"l":4.02,"c":85},{"l":4.06,"c":98},{"l":4.1,"c":101},{"l":4.14,"c":98},{"l":4.18,"c":88},{"l":4.23,"c":62},{"l":4.28,"c":45},{"l":4.34,"c":34},{"l":4.39,"c":28},{"l":4.46,"c":33},{"l":4.55,"c":48},{"l":4.62,"c":52},{"l":4.67,"c":51},{"l":4.74,"c":42},{"l":4.8,"c":25},{"l":4.86,"c":12},{"l":4.93,"c":6},{"l":5.05,"c":3},{"l":5.15,"c":2},{"l":5.3,"c":0}]},"mark":{"type":"area","color":"#f76b6b","stroke":"#e24b4b","strokeWidth":0.8}},
  {"data":{"values":[{"l":1.5,"l2":4.25,"c":50.6},{"l":4.25,"l2":5.35,"c":50.6}]},"mark":{"type":"rule","color":"#333","strokeWidth":1},"encoding":{"x2":{"field":"l2"}}},
  {"data":{"values":[{"l":4.25,"c":0,"c2":101}]},"mark":{"type":"rule","color":"#000","strokeWidth":2},"encoding":{"y2":{"field":"c2"}}},
  {"data":{"values":[{"l":5.35,"c":0,"c2":101}]},"mark":{"type":"rule","color":"#888","strokeWidth":1.2},"encoding":{"y2":{"field":"c2"}}},
  {"data":{"values":[{"l":3.55,"c":72,"t":"P3"},{"l":3.55,"c":59,"t":"50.7"},{"l":5.06,"c":72,"t":"P2"},{"l":5.09,"c":59,"t":"41.6"}]},"mark":{"type":"text","align":"center","baseline":"middle","font":"Liberation Sans","fontSize":7.5,"color":"#333"},"encoding":{"text":{"field":"t"}}}
 ]
}
]
}
